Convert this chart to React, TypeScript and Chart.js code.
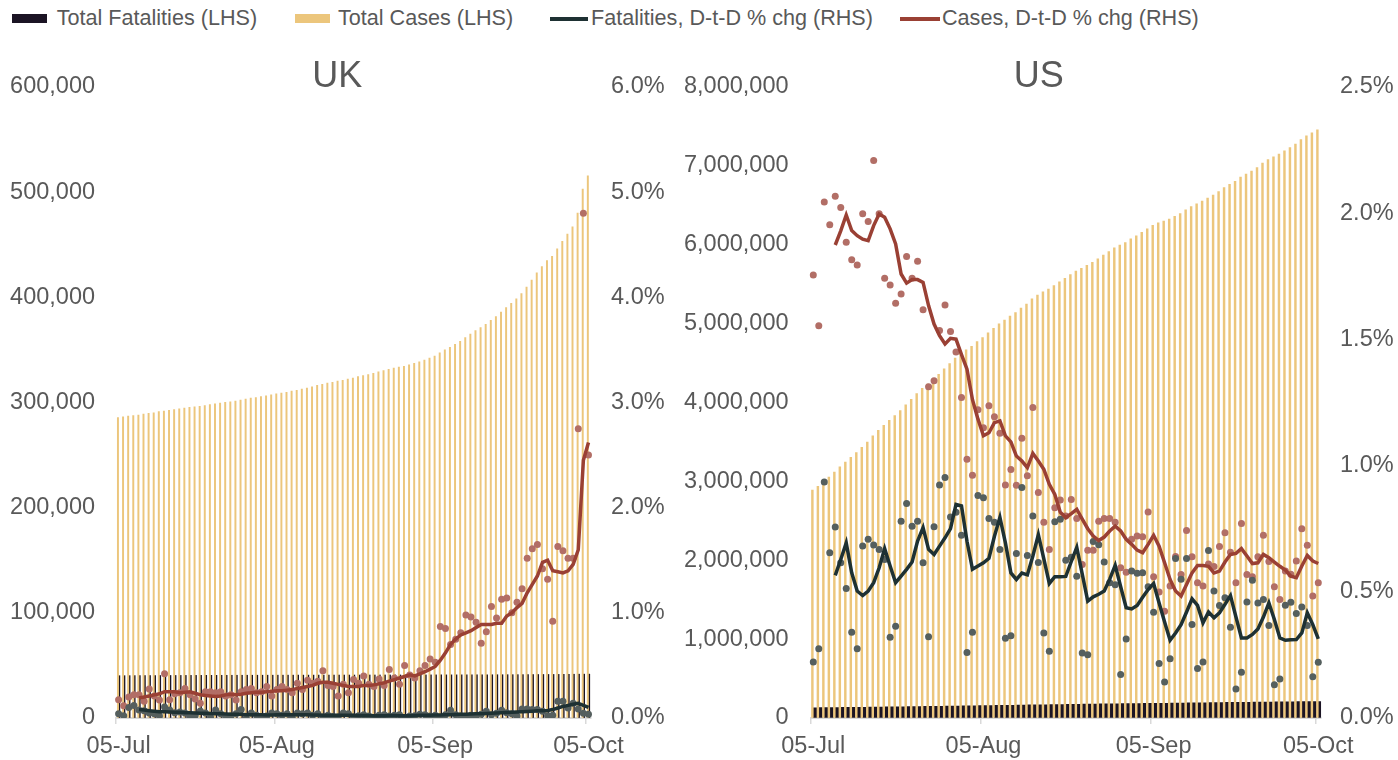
import React, { useEffect, useRef } from 'react';
import { Chart, registerables } from 'chart.js';

Chart.register(...registerables);

const FONT = '"Liberation Sans", Arial, Helvetica, sans-serif';
const TEXT = '#595959';
const C_DEATH_BAR = '#1B1424';
const C_CASE_BAR = '#ECC67C';
const C_DEATH_LINE = '#1E3133';
const C_CASE_LINE = '#9A4034';
const C_DEATH_DOT = '#555F5E';
const C_CASE_DOT = '#B26E66';

// ---------- UK ----------
const ukTotalCases = [
  285768, 286349, 286979, 287621, 288133, 288953, 289603, 290133, 291373, 291911, 292552, 293239, 294066, 294792,
  295372, 295817, 296377, 297146, 297914, 298681, 299500, 300111, 300692, 301455, 302301, 303181, 304098,
  304793, 305623, 306293, 307184, 308134, 309005, 309763, 310825, 311641, 312789, 313798, 314992, 316367, 317379,
  318484, 319197, 320286, 321098, 322280, 323313, 324601, 325642, 326614, 327798, 329252, 330368, 331644, 332752,
  333622, 334467, 335873,
  337168, 338676, 340411, 342351, 344164, 347152, 350100, 352560, 355219, 358138, 361677, 365174, 368504, 371125,
  374228, 378219, 381614, 385936, 390358, 394257, 398625, 403551, 409729, 416363, 423236, 429277, 434969, 439013,
  446156, 453264,
  460178, 467146, 480017, 502978, 515571,
];
const ukTotalFatalities = [
  40210, 40235, 40265, 40300, 40330, 40350, 40365, 40385, 40405, 40425, 40440, 40460, 40480, 40495, 40515, 40525,
  40535, 40555, 40575, 40590, 40605, 40615, 40625, 40640, 40655, 40670, 40685,
  40695, 40705, 40712, 40720, 40730, 40742, 40752, 40760, 40768, 40775, 40785, 40795, 40805, 40815, 40822, 40830,
  40838, 40845, 40855, 40865, 40872, 40880, 40888, 40895, 40905, 40915, 40922, 40930, 40935, 40942, 40950,
  40958, 40965, 40975, 40985, 40995, 41002, 41010, 41020, 41035, 41048, 41060, 41072, 41085, 41095, 41110, 41130,
  41150, 41172, 41190, 41210, 41228, 41250, 41285, 41320, 41355, 41385, 41410, 41430, 41460, 41500,
  41560, 41625, 41675, 41700, 41720,
];
const ukCasesDaily = [
  0.174, 0.117, 0.2, 0.22, 0.22, 0.16, 0.276, 0.21, 0.17, 0.42,
  0.174, 0.23, 0.24, 0.28, 0.22, 0.18, 0.14, 0.25, 0.25, 0.24,
  0.25, 0.21, 0.22, 0.17, 0.25, 0.27, 0.28, 0.24, 0.25, 0.3,
  0.21, 0.27, 0.3, 0.27, 0.24, 0.33, 0.27, 0.36, 0.33, 0.35,
  0.45, 0.31, 0.3, 0.21, 0.32, 0.24, 0.365, 0.33, 0.4, 0.32,
  0.3, 0.37, 0.31, 0.46, 0.38, 0.32, 0.5, 0.41, 0.38, 0.45,
  0.5, 0.56, 0.53, 0.87, 0.85, 0.7, 0.75, 0.81, 0.98, 0.96,
  0.91, 0.71, 0.82, 1.06, 0.95, 1.13, 1.14, 1.0, 1.1, 1.23,
  1.52, 1.61, 1.65, 1.42, 1.32, 0.92, 1.63, 1.59, 1.52, 1.52,
  2.75, 4.8, 2.5,
];
const ukCasesAvg = [
  null, null, null, null,
  0.19, 0.2, 0.21, 0.22, 0.23, 0.25,
  0.25, 0.25, 0.24, 0.245, 0.25, 0.235, 0.22, 0.215, 0.21, 0.205,
  0.21, 0.22, 0.225, 0.22, 0.225, 0.235, 0.24, 0.245, 0.245, 0.25,
  0.255, 0.26, 0.26, 0.265, 0.27, 0.28, 0.29, 0.3, 0.31, 0.33,
  0.34, 0.34, 0.33, 0.32, 0.31, 0.3, 0.3, 0.3, 0.31, 0.31,
  0.315, 0.325, 0.335, 0.35, 0.365, 0.38, 0.395, 0.41, 0.4, 0.42,
  0.44, 0.465, 0.49, 0.55, 0.62, 0.7, 0.75, 0.79, 0.81, 0.83,
  0.86, 0.89, 0.89, 0.89, 0.9, 0.9, 0.97, 1.0, 1.05, 1.09,
  1.19, 1.27, 1.35, 1.48, 1.5, 1.4, 1.39, 1.38, 1.4, 1.46,
  1.6, 2.45, 2.62,
];
const ukFatalitiesDaily = [
  0.041, 0.022, 0.1, 0.12, 0.076, 0.07, 0.048, 0.04, 0.02, 0.105,
  0.076, 0.05, 0.057, 0.048, 0.02, 0.025, 0.067, 0.048, 0.01, 0.076,
  0.04, 0.01, 0.02, 0.04, 0.08, 0.0, 0.048, 0.025, 0.0, 0.02,
  0.048, 0.04, 0.025, 0.04, 0.01, 0.048, 0.04, 0.048, 0.025, 0.04,
  0.01, 0.025, 0.015, 0.01, 0.048, 0.04, 0.01, 0.022, 0.03, 0.02,
  0.0, 0.025, 0.03, 0.02, 0.025, 0.03, 0.0, 0.02, 0.022, 0.035,
  0.03, 0.02, 0.025, 0.0, 0.03, 0.073, 0.03, 0.02, 0.0, 0.025,
  0.02, 0.035, 0.064, 0.03, 0.045, 0.073, 0.05, 0.04, 0.02, 0.086,
  0.085, 0.08, 0.08, 0.064, 0.022, 0.025, 0.159, 0.159, 0.095, 0.14,
  0.086, 0.044, 0.035,
];
const ukFatalitiesAvg = [
  null, null, null, null,
  0.08, 0.075, 0.07, 0.065, 0.06, 0.06,
  0.058, 0.055, 0.055, 0.05, 0.05, 0.048, 0.045, 0.045, 0.042, 0.04,
  0.04, 0.038, 0.035, 0.035, 0.035, 0.032, 0.03, 0.03, 0.03, 0.028,
  0.028, 0.03, 0.03, 0.03, 0.032, 0.032, 0.03, 0.03, 0.028, 0.028,
  0.026, 0.026, 0.025, 0.025, 0.026, 0.026, 0.025, 0.024, 0.024, 0.024,
  0.022, 0.022, 0.022, 0.024, 0.024, 0.022, 0.022, 0.022, 0.024, 0.025,
  0.025, 0.026, 0.028, 0.028, 0.03, 0.032, 0.033, 0.035, 0.036, 0.038,
  0.04, 0.04, 0.042, 0.045, 0.047, 0.05, 0.052, 0.055, 0.057, 0.06,
  0.062, 0.065, 0.068, 0.07, 0.072, 0.08, 0.095, 0.11, 0.12, 0.13,
  0.14, 0.12, 0.1,
];

// ---------- US ----------
const usTotalCases = [
  2888635, 2936770, 2996098, 3055491, 3117946, 3184573, 3245925, 3304942, 3364157, 3431574, 3499398, 3576221,
  3647715, 3711413, 3773260, 3834135, 3898550, 3970121, 4038816, 4112531, 4178970, 4233923, 4290337, 4357360,
  4426982, 4494551, 4562038,
  4620444, 4667955, 4713540, 4771080, 4823890, 4883582, 4941755, 4998017, 5044864, 5094400, 5141208, 5197411,
  5248958, 5313055, 5361165, 5403213, 5438325, 5482416, 5529824, 5573847, 5622540, 5667112, 5701679, 5739555,
  5777710, 5821819, 5867785, 5913988, 5961094, 5997163, 6026895,
  6073840, 6113160, 6157389, 6200518, 6244970, 6276365, 6299650, 6327009, 6360212, 6396100, 6443743, 6485123,
  6519573, 6553652, 6592983, 6630051, 6674411, 6723933, 6766631, 6804814, 6856884, 6896218, 6934205, 6979577,
  7034432, 7078798, 7115491, 7148009, 7191061, 7233043,
  7277814, 7332200, 7382194, 7418107, 7458550,
];
const usTotalFatalities = [
  130306, 130572, 131480, 132300, 133291, 134097, 134862, 135291, 135682, 136582, 137539, 138499, 139407, 140281,
  140775, 141198, 142301, 143458, 144556, 145560, 146490, 146935, 147333, 148617, 150044, 151487, 152696,
  153953, 154390, 154849, 156180, 157542, 158798, 160003, 161103, 161555, 162090, 163465, 164860, 165926, 167046,
  168120, 168492, 168939, 170219, 171583, 172684, 173772, 174870, 175285, 175660, 176858, 178176, 179290, 180244,
  181225, 181668, 182048,
  183078, 184097, 185164, 186066, 186876, 187298, 187569, 188017, 189207, 190120, 191297, 192018, 192726, 193108,
  194325, 195510, 196402, 197311, 198075, 198327, 198649, 199597, 200767, 201716, 202607, 203355, 203611, 203924,
  204734, 205769,
  206667, 207789, 208451, 208811, 209209,
];
const usCasesDaily = [
  1.755, 1.554, 2.044, 1.954, 2.067, 2.023, 1.885, 1.816, 1.795, 1.998,
  1.967, 2.209, 1.998, 1.742, 1.716, 1.643, 1.68, 1.828, 1.742, 1.81,
  1.617, 1.312, 1.336, 1.535, 1.636, 1.531, 1.45, 1.27, 1.025, 0.962,
  1.221, 1.15, 1.237, 1.194, 1.128, 0.923, 0.985, 0.922, 1.108, 0.96,
  1.23, 0.893, 0.776, 0.668, 0.833, 0.864, 0.8, 0.866, 0.79, 0.608,
  0.665, 0.665, 0.78, 0.79, 0.79, 0.776, 0.595, 0.577, 0.708, 0.721,
  0.718, 0.816, 0.56, 0.499, 0.423, 0.523, 0.64, 0.569, 0.743, 0.639,
  0.536, 0.523, 0.61, 0.6, 0.679, 0.734, 0.657, 0.536, 0.771, 0.569,
  0.56, 0.639, 0.724, 0.62, 0.52, 0.469, 0.582, 0.57, 0.622, 0.75,
  0.684, 0.483, 0.536,
];
const usCasesAvg = [
  null, null, null, null,
  1.874, 1.93, 1.993, 1.931, 1.911, 1.897,
  1.891, 1.951, 1.997, 1.984, 1.938, 1.878, 1.759, 1.723, 1.737, 1.737,
  1.726, 1.634, 1.561, 1.515, 1.482, 1.504, 1.501, 1.44, 1.382, 1.261,
  1.184, 1.118, 1.13, 1.17, 1.177, 1.118, 1.094, 1.038, 1.018, 0.992,
  1.048, 1.018, 0.985, 0.926, 0.886, 0.815, 0.794, 0.81, 0.827, 0.788,
  0.75, 0.721, 0.703, 0.717, 0.741, 0.76, 0.741, 0.708, 0.688, 0.665,
  0.655, 0.688, 0.724, 0.681, 0.615, 0.549, 0.503, 0.483, 0.529, 0.575,
  0.604, 0.604, 0.601, 0.575, 0.582, 0.618, 0.648, 0.652, 0.671, 0.642,
  0.612, 0.615, 0.648, 0.635, 0.618, 0.601, 0.586, 0.562, 0.556, 0.602,
  0.644, 0.622, 0.612,
];
const usFatalitiesDaily = [
  0.222, 0.274, 0.935, 0.655, 0.757, 0.615, 0.513, 0.34, 0.274, 0.681,
  0.708, 0.685, 0.668, 0.628, 0.32, 0.364, 0.78, 0.85, 0.76, 0.78,
  0.615, 0.322, 0.758, 0.923, 0.953, 0.796, 0.815, 0.724, 0.26, 0.34,
  0.882, 0.873, 0.79, 0.776, 0.668, 0.316, 0.326, 0.652, 0.913, 0.644,
  0.8, 0.616, 0.337, 0.264, 0.778, 0.787, 0.625, 0.637, 0.562, 0.258,
  0.251, 0.699, 0.686, 0.618, 0.536, 0.528, 0.172, 0.313, 0.582, 0.573,
  0.575, 0.52, 0.419, 0.216, 0.143, 0.235, 0.632, 0.55, 0.632, 0.37,
  0.196, 0.222, 0.664, 0.503, 0.446, 0.476, 0.36, 0.115, 0.181, 0.46,
  0.546, 0.456, 0.469, 0.366, 0.132, 0.155, 0.447, 0.459, 0.414, 0.44,
  0.366, 0.163, 0.221,
];
const usFatalitiesAvg = [
  null, null, null, null,
  0.565, 0.628, 0.694, 0.575, 0.503, 0.485,
  0.503, 0.536, 0.595, 0.671, 0.602, 0.536, 0.562, 0.589, 0.618, 0.701,
  0.754, 0.668, 0.648, 0.681, 0.714, 0.75, 0.846, 0.84, 0.7, 0.589,
  0.602, 0.615, 0.633, 0.72, 0.795, 0.694, 0.575, 0.549, 0.574, 0.567,
  0.642, 0.726, 0.63, 0.533, 0.56, 0.56, 0.561, 0.62, 0.676, 0.57,
  0.463, 0.48, 0.49, 0.503, 0.55, 0.605, 0.52, 0.437, 0.432, 0.446,
  0.478, 0.509, 0.533, 0.456, 0.38, 0.308, 0.337, 0.37, 0.42, 0.472,
  0.446, 0.377, 0.42, 0.397, 0.417, 0.45, 0.485, 0.4, 0.317, 0.317,
  0.331, 0.353, 0.4, 0.456, 0.39, 0.317, 0.308, 0.31, 0.311, 0.337,
  0.417, 0.37, 0.313,
];

// ---------- categories / ticks ----------
const MONTHS = ['Jan', 'Feb', 'Mar', 'Apr', 'May', 'Jun', 'Jul', 'Aug', 'Sep', 'Oct', 'Nov', 'Dec'];
function buildDates(n: number): string[] {
  const out: string[] = [];
  const d = new Date(Date.UTC(2020, 6, 5));
  for (let i = 0; i < n; i++) {
    out.push(String(d.getUTCDate()).padStart(2, '0') + '-' + MONTHS[d.getUTCMonth()]);
    d.setUTCDate(d.getUTCDate() + 1);
  }
  return out;
}
const dates = buildDates(ukTotalCases.length);
const xTickLabels = ['05-Jul', '05-Aug', '05-Sep', '05-Oct'];

const legendItems = [
  { label: 'Total Fatalities (LHS)', kind: 'box', color: C_DEATH_BAR, x: 11.7, w: 35, tx: 56.7 },
  { label: 'Total Cases (LHS)', kind: 'box', color: C_CASE_BAR, x: 295, w: 35, tx: 338 },
  { label: 'Fatalities, D-t-D % chg (RHS)', kind: 'line', color: C_DEATH_LINE, x: 550, w: 38, tx: 591 },
  { label: 'Cases, D-t-D % chg (RHS)', kind: 'line', color: C_CASE_LINE, x: 900, w: 40, tx: 942 },
];

interface PanelProps {
  title: string;
  totalCases: number[];
  totalFatalities: number[];
  casesDaily: number[];
  casesAvg: (number | null)[];
  fatalitiesDaily: number[];
  fatalitiesAvg: (number | null)[];
  yMax: number;
  yStep: number;
  rMax: number;
  rStep: number;
  width: number;
  padL: number;
  padR: number;
  yGap: number;
  rGap: number;
  caseBarW: number;
  deathBarW: number;
}

function Panel(p: PanelProps) {
  const ref = useRef<HTMLCanvasElement>(null);
  useEffect(() => {
    if (!ref.current) return;
    const tickFont = { family: FONT, size: 23.5 };
    const chart = new Chart(ref.current, {
      type: 'bar',
      data: {
        labels: dates,
        datasets: [
          {
            type: 'line',
            label: 'Fatalities, D-t-D % chg (RHS)',
            data: p.fatalitiesAvg,
            yAxisID: 'y1',
            borderColor: C_DEATH_LINE,
            borderWidth: 3.5,
            pointRadius: 0,
            tension: 0,
            order: 0,
          },
          {
            type: 'line',
            label: 'Cases, D-t-D % chg (RHS)',
            data: p.casesAvg,
            yAxisID: 'y1',
            borderColor: C_CASE_LINE,
            borderWidth: 3.5,
            pointRadius: 0,
            tension: 0,
            order: 0,
          },
          {
            type: 'line',
            label: 'Fatalities daily % chg',
            data: p.fatalitiesDaily,
            yAxisID: 'y1',
            showLine: false,
            pointRadius: 3.5,
            pointBorderWidth: 0,
            pointBackgroundColor: C_DEATH_DOT,
            borderColor: C_DEATH_DOT,
            order: 1,
          },
          {
            type: 'line',
            label: 'Cases daily % chg',
            data: p.casesDaily,
            yAxisID: 'y1',
            showLine: false,
            pointRadius: 3.5,
            pointBorderWidth: 0,
            pointBackgroundColor: C_CASE_DOT,
            borderColor: C_CASE_DOT,
            order: 1,
          },
          {
            type: 'bar',
            label: 'Total Cases (LHS)',
            data: p.totalCases,
            yAxisID: 'y',
            backgroundColor: C_CASE_BAR,
            barThickness: p.caseBarW,
            categoryPercentage: 1,
            order: 2,
          },
          {
            type: 'bar',
            label: 'Total Fatalities (LHS)',
            data: p.totalFatalities,
            yAxisID: 'y',
            backgroundColor: C_DEATH_BAR,
            barThickness: p.deathBarW,
            categoryPercentage: 1,
            order: 2,
          },
        ],
      } as any,
      options: {
        responsive: false,
        animation: false,
        layout: { padding: { left: p.padL, right: p.padR, top: 0, bottom: -7 } },
        plugins: {
          legend: { display: false },
          tooltip: { enabled: false },
          title: {
            display: true,
            text: p.title,
            color: TEXT,
            font: { family: FONT, size: 36, weight: 'normal' },
            padding: { top: 13.9, bottom: -12.1 },
          },
        },
        scales: {
          x: {
            type: 'category',
            offset: true,
            grid: {
              display: true,
              offset: true,
              drawOnChartArea: false,
              drawTicks: true,
              tickLength: 6,
              lineWidth: 1.5,
              color: (ctx: any) =>
                xTickLabels.includes(dates[ctx.index]) ? '#D9D9D9' : 'rgba(0,0,0,0)',
            },
            border: { display: true, color: '#D9D9D9', width: 2 },
            ticks: {
              autoSkip: false,
              maxRotation: 0,
              minRotation: 0,
              padding: 8.4,
              color: TEXT,
              font: tickFont,
              callback: (_v: any, i: number) => (xTickLabels.includes(dates[i]) ? dates[i] : ''),
            },
          },
          y: {
            position: 'left',
            min: 0,
            max: p.yMax,
            grid: {
              display: true,
              drawOnChartArea: false,
              drawTicks: true,
              tickLength: p.yGap,
              color: 'rgba(0,0,0,0)',
            },
            border: { display: false },
            ticks: {
              stepSize: p.yStep,
              padding: 0,
              color: TEXT,
              font: tickFont,
              callback: (v: any) => Number(v).toLocaleString('en-US'),
            },
          },
          y1: {
            position: 'right',
            min: 0,
            max: p.rMax,
            grid: {
              display: true,
              drawOnChartArea: false,
              drawTicks: true,
              tickLength: p.rGap,
              color: 'rgba(0,0,0,0)',
            },
            border: { display: false },
            ticks: {
              stepSize: p.rStep,
              padding: 0,
              color: TEXT,
              font: tickFont,
              callback: (v: any) => Number(v).toFixed(1) + '%',
            },
          },
        },
      } as any,
    });
    return () => chart.destroy();
  }, []);
  return <canvas ref={ref} width={p.width} height={720} style={{ display: 'block', width: p.width, height: 720 }} />;
}

export default function App() {
  return (
    <div
      style={{
        position: 'absolute',
        left: 0,
        top: 0,
        width: 1398,
        height: 760,
        overflow: 'hidden',
        background: '#fff',
        fontFamily: FONT,
      }}
    >
      {legendItems.map((it) => (
        <React.Fragment key={it.label}>
          <div
            style={{
              position: 'absolute',
              left: it.x,
              top: it.kind === 'box' ? 14 : 17.3,
              width: it.w,
              height: it.kind === 'box' ? 9.3 : 3.4,
              background: it.color,
            }}
          />
          <div
            style={{
              position: 'absolute',
              left: it.tx,
              top: 5.5,
              fontSize: 21.6,
              lineHeight: '24px',
              color: TEXT,
              whiteSpace: 'nowrap',
            }}
          >
            {it.label}
          </div>
        </React.Fragment>
      ))}
      <div style={{ position: 'absolute', left: 0, top: 42 }}>
        <Panel
          title="UK"
          totalCases={ukTotalCases}
          totalFatalities={ukTotalFatalities}
          casesDaily={ukCasesDaily}
          casesAvg={ukCasesAvg}
          fatalitiesDaily={ukFatalitiesDaily}
          fatalitiesAvg={ukFatalitiesAvg}
          yMax={600000}
          yStep={100000}
          rMax={6}
          rStep={1}
          width={676}
          padL={10.1}
          padR={11.4}
          yGap={21}
          rGap={20}
          caseBarW={1.3}
          deathBarW={1.3}
        />
      </div>
      <div style={{ position: 'absolute', left: 676, top: 42 }}>
        <Panel
          title="US"
          totalCases={usTotalCases}
          totalFatalities={usTotalFatalities}
          casesDaily={usCasesDaily}
          casesAvg={usCasesAvg}
          fatalitiesDaily={usFatalitiesDaily}
          fatalitiesAvg={usFatalitiesAvg}
          yMax={8000000}
          yStep={1000000}
          rMax={2.5}
          rStep={0.5}
          width={722}
          padL={8}
          padR={4.4}
          yGap={22}
          rGap={19}
          caseBarW={1.8}
          deathBarW={3.6}
        />
      </div>
    </div>
  );
}
